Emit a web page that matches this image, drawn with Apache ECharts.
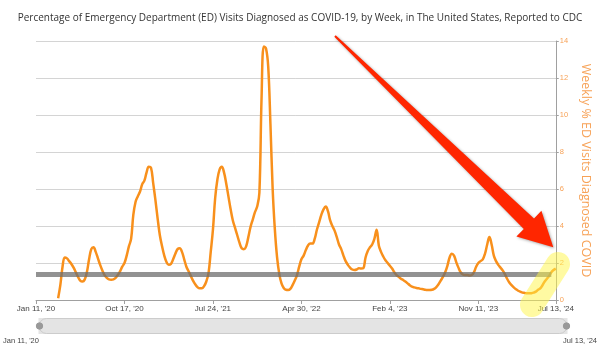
<!DOCTYPE html>
<html>
<head>
<meta charset="utf-8">
<script src="https://cdn.jsdelivr.net/npm/echarts@6/dist/echarts.min.js"></script>
<style>
  html, body { margin: 0; padding: 0; background: #fff; }
  #main { width: 600px; height: 354px; }
</style>
</head>
<body>
<div id="main"></div>
<script>
// weekly categories, Jan 11 '20 .. Jul 13 '24
const months = ['Jan', 'Feb', 'Mar', 'Apr', 'May', 'Jun', 'Jul', 'Aug', 'Sep', 'Oct', 'Nov', 'Dec'];
const weeks = [];
for (let i = 0; i < 236; i++) {
  const d = new Date(Date.UTC(2020, 0, 11 + i * 7));
  weeks.push(months[d.getUTCMonth()] + ' ' + d.getUTCDate() + ", '" + String(d.getUTCFullYear()).slice(2));
}

// % of ED visits diagnosed as COVID-19
const edPercent = [
  null, null, null, null, null, null, null, null, null, null,
  0.1, 0.8, 1.8, 2.3, 2.25, 2.1, 1.95, 1.75, 1.5, 1.25,
  1.05, 1.0, 1.1, 1.5, 2.2, 2.75, 2.85, 2.6, 2.25, 1.9,
  1.6, 1.35, 1.2, 1.12, 1.1, 1.12, 1.2, 1.35, 1.55, 1.8,
  2.0, 2.4, 2.9, 3.3, 4.6, 5.3, 5.6, 5.85, 6.25, 6.45,
  6.9, 7.2, 7.15, 6.3, 5.4, 4.4, 3.5, 2.9, 2.4, 2.05,
  1.9, 1.95, 2.2, 2.5, 2.75, 2.8, 2.6, 2.2, 1.8, 1.55,
  1.3, 1.05, 0.85, 0.7, 0.63, 0.63, 0.75, 1.0, 1.45, 2.6,
  3.8, 5.5, 6.5, 7.05, 7.2, 6.9, 6.3, 5.6, 4.9, 4.3,
  3.9, 3.5, 3.1, 2.8, 2.75, 2.9, 3.4, 3.95, 4.35, 4.75,
  5.05, 5.8, 11.0, 13.7, 13.6, 12.6, 9.5, 6.0, 3.8, 2.3,
  1.4, 0.9, 0.65, 0.55, 0.54, 0.6, 0.8, 1.05, 1.35, 1.8,
  2.2, 2.4, 2.7, 2.95, 3.05, 3.05, 3.3, 3.8, 4.2, 4.6,
  4.9, 5.05, 4.8, 4.3, 4.0, 3.75, 3.4, 3.0, 2.75, 2.4,
  2.1, 1.9, 1.75, 1.65, 1.62, 1.65, 1.72, 1.7, 1.72, 2.3,
  2.65, 2.85, 3.0, 3.3, 3.8, 2.95, 2.6, 2.35, 2.15, 2.0,
  1.85, 1.7, 1.5, 1.35, 1.25, 1.15, 1.08, 1.0, 0.9, 0.8,
  0.72, 0.68, 0.65, 0.63, 0.6, 0.58, 0.55, 0.54, 0.54, 0.55,
  0.6, 0.7, 0.85, 1.05, 1.25, 1.5, 1.85, 2.3, 2.5, 2.4,
  2.05, 1.75, 1.5, 1.38, 1.35, 1.35, 1.33, 1.35, 1.5, 1.8,
  2.0, 2.1, 2.2, 2.5, 3.0, 3.4, 3.0, 2.4, 2.1, 1.9,
  1.75, 1.6, 1.4, 1.15, 0.95, 0.8, 0.68, 0.58, 0.5, 0.45,
  0.4, 0.38, 0.36, 0.36, 0.37, 0.4, 0.45, 0.55, 0.63, 0.8,
  1.0, 1.15, 1.3, 1.5, 1.62, 1.7
];

// gray reference line drawn over the chart
const refLevel = 1.4;
const refEnd = 233;

const chart = echarts.init(document.getElementById('main'));

const showTick = idx => idx % 40 === 0 || idx === weeks.length - 1;

chart.setOption({
  animation: false,
  backgroundColor: '#fff',
  title: {
    text: 'Percentage of Emergency Department (ED) Visits Diagnosed as COVID-19, by Week, in The United States, Reported to CDC',
    left: 'center',
    top: 8,
    textStyle: { fontFamily: 'Open Sans', fontSize: 10, fontWeight: 'normal', color: '#333' }
  },
  grid: { left: 36, right: 38, top: 41, bottom: 54 },
  xAxis: {
    type: 'category',
    data: weeks,
    boundaryGap: false,
    axisLine: { lineStyle: { color: '#a0a0a0', width: 1 } },
    axisTick: { show: true, interval: (i) => showTick(i), length: 4, lineStyle: { color: '#a0a0a0' } },
    axisLabel: {
      interval: (i) => showTick(i),
      fontFamily: 'Liberation Sans',
      fontSize: 8,
      color: '#444',
      margin: 5,
      showMaxLabel: true
    },
    splitLine: { show: false }
  },
  yAxis: {
    type: 'value',
    position: 'right',
    min: 0,
    max: 14,
    interval: 2,
    name: 'Weekly % ED Visits Diagnosed COVID',
    nameLocation: 'middle',
    nameRotate: -90,
    nameGap: 16,
    nameTextStyle: { fontFamily: 'Open Sans', fontSize: 12.5, color: '#f7a257' },
    axisLine: { show: true, lineStyle: { color: '#a0a0a0', width: 1 } },
    axisTick: { show: true, length: 3, lineStyle: { color: '#a0a0a0' } },
    axisLabel: { fontFamily: 'Liberation Sans', fontSize: 7.5, color: '#f7a257', margin: 4 },
    splitLine: { lineStyle: { color: '#d4d4d4', width: 1 } }
  },
  dataZoom: [{
    type: 'slider',
    xAxisIndex: 0,
    start: 0,
    end: 100,
    left: 37,
    right: 34,
    top: 318,
    height: 16,
    showDetail: false,
    showDataShadow: false,
    brushSelect: false,
    moveHandleSize: 0,
    borderRadius: 8,
    borderColor: '#cccccc',
    backgroundColor: '#e4e4e4',
    fillerColor: 'rgba(0,0,0,0)',
    handleIcon: 'circle',
    handleSize: '40%',
    handleStyle: { color: '#999', borderColor: '#999' }
  }],
  series: [{
    type: 'line',
    data: edPercent,
    smooth: 0.4,
    showSymbol: false,
    connectNulls: false,
    lineStyle: { color: '#f8901c', width: 2.5 },
    itemStyle: { color: '#f8901c' },
    z: 2,
    markLine: {
      silent: true,
      symbol: ['none', 'none'],
      label: { show: false },
      lineStyle: { color: 'rgba(110,110,110,0.75)', width: 5, type: 'solid' },
      data: [[{ coord: [0, refLevel] }, { coord: [refEnd, refLevel] }]]
    }
  }],
  graphic: [
    {
      type: 'line',
      z: 50,
      shape: { x1: 532, y1: 305, x2: 558, y2: 264 },
      style: { stroke: 'rgba(255,245,70,0.5)', lineWidth: 24, lineCap: 'round' }
    },
    {
      type: 'polygon',
      z: 60,
      shape: {
        points: [[334.3, 36.7], [335.7, 35.3], [534.0, 218.4], [541.4, 210.8],
                 [553.3, 247.3], [516.4, 236.6], [523.8, 229.0]]
      },
      style: { fill: '#ff2600', shadowBlur: 3, shadowColor: 'rgba(0,0,0,0.35)', shadowOffsetX: 1, shadowOffsetY: 1 }
    },
    {
      type: 'text',
      left: 3,
      top: 337,
      style: { text: "Jan 11, '20", fontFamily: 'Liberation Sans', fontSize: 7.5, fill: '#444' }
    },
    {
      type: 'text',
      right: 3,
      top: 337,
      style: { text: "Jul 13, '24", fontFamily: 'Liberation Sans', fontSize: 7.5, fill: '#444' }
    }
  ]
});
</script>
</body>
</html>
